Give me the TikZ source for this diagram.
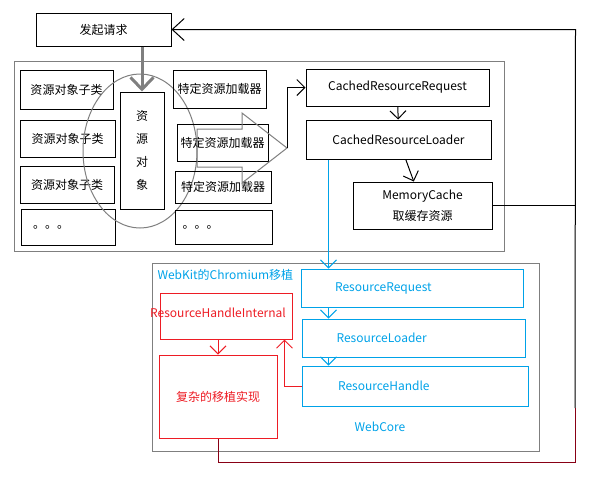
\documentclass[tikz,border=0pt]{standalone}
\usepackage{fontspec}
\setmainfont{Noto Sans CJK SC}
\usetikzlibrary{arrows.meta,positioning}
\definecolor{paintblue}{HTML}{00A2E8}
\definecolor{paintred}{HTML}{ED1C24}
\definecolor{paintdark}{HTML}{880015}
\definecolor{paintgray}{HTML}{7F7F7F}

\begin{document}
\begin{tikzpicture}[x=1pt,y=-1pt,->,>={Straight Barb[length=8pt,width=16pt]},line width=1pt,font=\fontsize{12}{14}\selectfont]
  \tikzstyle{box}=[draw=black,rectangle,inner sep=0pt,align=center]
  \tikzstyle{bluebox}=[box,draw=paintblue,text=paintblue,text width=154pt,align=left]
  \tikzstyle{redbox}=[box,draw=paintred,text=paintred]
  \tikzstyle{frame}=[-,draw=paintgray]

  \useasboundingbox (0,0) rectangle (594,491);
  \draw[frame] (14,61) rectangle (504,251);
  \draw[frame] (152,263) rectangle (539,451);

  \node[box,minimum width=135pt,minimum height=33pt] (req) at (103.5,29.5) {发起请求};

  \node[box,minimum width=93pt,minimum height=39pt] (sub1) at (66.5,89.5) {资源对象子类};
  \node[box,minimum width=95pt,minimum height=37pt] (sub2) at (67.5,138.5) {资源对象子类};
  \node[box,minimum width=94pt,minimum height=37pt] (sub3) at (67,184.5) {资源对象子类};
  \node[box,minimum width=94pt,minimum height=36pt,text width=70pt,align=left] (sub4) at (68,227) {。。。};

  \node[box,minimum width=44pt,minimum height=117pt,font=\fontsize{12}{23}\selectfont] (obj) at (142,150.5) {资\\源\\对\\象};
  \draw[frame] (140,151) ellipse [x radius=57pt,y radius=77pt];

  \node[box,minimum width=93pt,minimum height=38pt] (ldr1) at (219.5,89) {特定资源加载器};
  \node[box,minimum width=91pt,minimum height=37pt] (ldr2) at (222.5,142.5) {特定资源加载器};
  \node[box,minimum width=96pt,minimum height=32pt] (ldr3) at (223,187) {特定资源加载器};
  \node[box,minimum width=97pt,minimum height=34pt,text width=82pt,align=left] (ldr4) at (223.5,227) {。。。};

  % hollow arrow towards the cached loader
  \draw[frame] (197,129) -- (242,129) -- (242,113) -- (287,148) -- (242,183) -- (242,167) -- (197,167) -- cycle;
  \coordinate (tip) at (287,148);

  \node[box,minimum width=183pt,minimum height=37pt] (creq) at (397.5,87.5) {CachedResourceRequest};
  \node[box,minimum width=185pt,minimum height=39pt] (cldr) at (398.5,139.5) {CachedResourceLoader};
  \node[box,minimum width=139pt,minimum height=47pt,font=\fontsize{12}{21}\selectfont] (mem) at (422.5,205.5) {MemoryCache\\取缓存资源};

  \node[text=paintblue,anchor=west,inner sep=0pt] (wk) at (157,275) {WebKit的Chromium移植};
  \node[bluebox,minimum width=222pt,minimum height=38pt] (rreq) at (412,288) {ResourceRequest};
  \node[bluebox,minimum width=223pt,minimum height=38pt] (rldr) at (413.5,338) {ResourceLoader};
  \node[bluebox,minimum width=226pt,minimum height=40pt] (rh) at (415,386) {ResourceHandle};
  \node[text=paintblue] (wc) at (380,427) {WebCore};

  \node[redbox,minimum width=132pt,minimum height=46pt,label={[text=paintred,xshift=-8pt,yshift=3pt]center:ResourceHandleInternal}] (rhi) at (226,316) {};
  \node[redbox,minimum width=118pt,minimum height=83pt] (impl) at (218,396.5) {复杂的移植实现};

  \draw[paintgray,line width=3pt,>={Straight Barb[length=12pt,width=23pt]}] (obj.north |- req.south) -- (obj.north);
  \draw (tip) |- (creq.west);
  \path (creq) edge (cldr)
        (cldr) edge (mem);

  % way back to the request
  \coordinate[right=404pt of req.east] (rt);
  \coordinate (jn) at (575,408);
  \coordinate (cb) at (575,462);
  \draw[>={Straight Barb[length=12pt,width=22pt]}] (jn) -- (rt) -- (req.east);
  \draw[-] (mem.east) -- (mem.east -| rt);
  \draw[-,paintdark] (impl.south) |- (cb) -- (jn);

  \coordinate (bl) at ([xshift=23pt]cldr.south west);
  \draw[paintblue] (bl) -- (bl |- rreq.north);
  \draw[paintblue] (bl |- rreq.south) -- (bl |- rldr.north);
  \draw[paintblue] (bl |- rldr.south) -- (bl |- rh.north);

  \draw[paintred] (rhi.south -| impl.north) -- (impl.north);
  \draw[paintred] (rh.west) -| ([xshift=-8pt]rhi.south east);
\end{tikzpicture}
\end{document}
